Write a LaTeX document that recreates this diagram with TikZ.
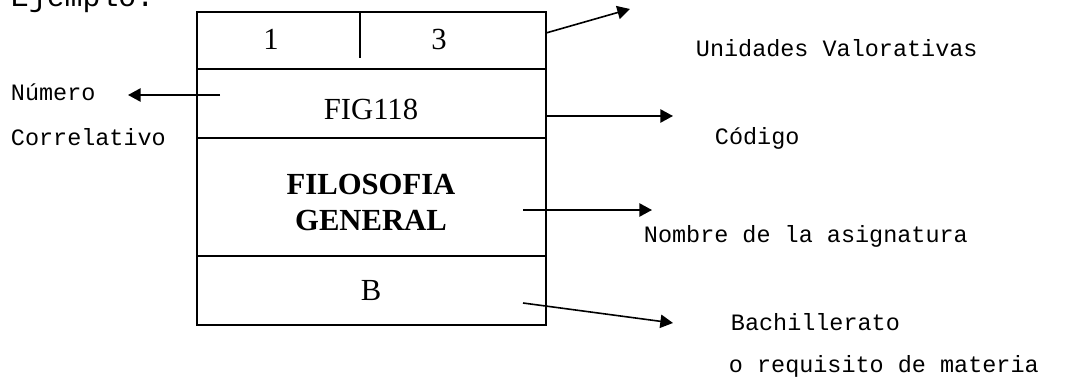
\documentclass[tikz,border=0pt]{standalone}
\usepackage{fontspec}
\setmainfont{Liberation Serif}
\newfontfamily\mono{Liberation Mono}
\usetikzlibrary{arrows.meta}

\tikzset{
  celda/.style={font=\fontsize{23}{27}\selectfont, inner sep=0pt, anchor=base},
  etiqueta/.style={font=\mono\fontsize{17.6}{20}\selectfont, inner sep=0pt, anchor=base west},
  flecha/.style={line width=1.2pt, -{Triangle[length=9.5pt,width=10pt]}},
}

\begin{document}
\begin{tikzpicture}[x=0.75pt,y=0.75pt,yscale=-1,xscale=1,line width=1.4pt]
\useasboundingbox (0,0) rectangle (1090,378);

%Shape: Rectangle [tarjeta]
\draw (197,12) rectangle (546,325);
%Straight Lines [filas]
\draw (197,69) -- (546,69);
\draw (197,138) -- (546,138);
\draw (197,256) -- (546,256);
%Straight Lines [division]
\draw (360,12) -- (360,58);

% Text Node
\node [anchor=base west,inner sep=0pt,font=\mono\fontsize{22.4}{26}\selectfont] (ejemplo) at (10,7) {Ejemplo:};

% Text Node
\node [celda] (uno) at (271,50) {1};
\node [celda] (tres) at (439,50) {3};
\node [celda] (codigo) at (371,120) {FIG118};
\node [celda,font=\fontsize{23}{27}\selectfont\bfseries,align=center] (nombre) at (371,230) {FILOSOFIA\\GENERAL};
\node [celda] (bach) at (371,300) {B};

% Text Node
\node [etiqueta] (lnum) at (10,101) {Número};
\node [etiqueta] (lcorr) at (10,146) {Correlativo};
\node [etiqueta] (luv) at (695,57) {Unidades Valorativas};
\node [etiqueta] (lcod) at (714,145) {Código};
\node [etiqueta] (lnom) at (643,242) {Nombre de la asignatura};
\node [etiqueta] (lbach) at (730,330) {Bachillerato};
\node [etiqueta] (lreq) at (728,372) {o requisito de materia};

%Straight Lines [flechas]
\coordinate (numA) at (220,95);
\coordinate (numB) at (128,95);
\draw [flecha] (numA) -- (numB);
\coordinate (uvA) at (546,33);
\coordinate (uvB) at (630,9);
\draw [flecha] (uvA) -- (uvB);
\coordinate (codA) at (546,116);
\coordinate (codB) at (673,116);
\draw [flecha] (codA) -- (codB);
\coordinate (nomA) at (523,210);
\coordinate (nomB) at (652,210);
\draw [flecha] (nomA) -- (nomB);
\coordinate (bachA) at (523,303);
\coordinate (bachB) at (673,323);
\draw [flecha] (bachA) -- (bachB);

\end{tikzpicture}
\end{document}
